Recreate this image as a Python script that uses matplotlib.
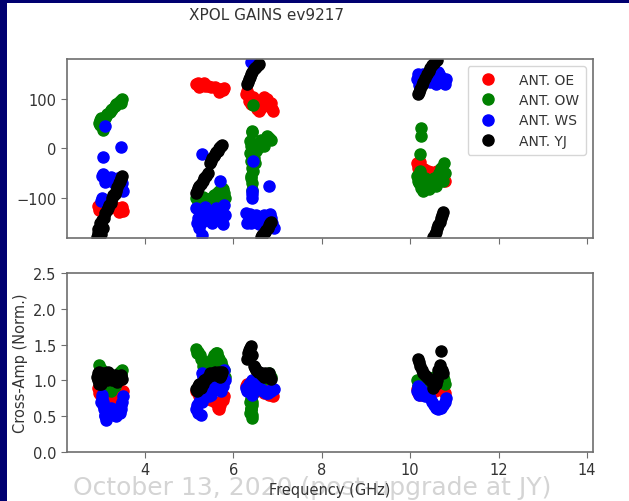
import matplotlib.pyplot as plt
from matplotlib.patches import Rectangle

# --- dane: częstotliwość (GHz), faza (deg), amplituda (norm.) ---
oe_freq = [2.93, 2.95, 2.97, 3.00, 3.01, 3.05, 3.10, 3.20, 3.30, 3.38, 3.40, 3.44, 3.47, 3.50,
           5.16, 5.20, 5.22, 5.25, 5.30, 5.33, 5.36, 5.42, 5.50, 5.58, 5.64, 5.68, 5.70, 5.76, 5.78,
           6.28, 6.31, 6.34, 6.36, 6.40, 6.42, 6.45, 6.47, 6.50, 6.53, 6.58, 6.62, 6.64, 6.68,
           6.70, 6.74, 6.76, 6.80, 6.84, 6.88, 6.90,
           10.16, 10.18, 10.20, 10.22, 10.25, 10.32, 10.40, 10.48, 10.56, 10.60, 10.64, 10.72,
           10.75, 10.78]
oe_phase = [-117, -125, -115, -112, -120, -125, -122, -120, -118, -120, -128, -124, -118, -127,
            131, 132, 125, 129, 128, 133, 127, 126, 125, 124, 120, 115, 121, 119, 123,
            110, 116, 96, 108, 90, 100, 105, 95, 85, 80, 76, 82, 98, 90,
            104, 95, 100, 85, 92, 79, 76,
            -30, -40, -36, -28, -40, -42, -45, -47, -50, -45, -52, -58,
            -55, -66]
oe_amp = [0.90, 0.82, 0.88, 0.78, 0.85, 0.80, 0.75, 0.70, 0.68, 0.65, 0.72, 0.75, 0.80, 0.85,
          0.85, 0.82, 0.78, 0.80, 0.85, 0.75, 0.80, 0.75, 0.72, 0.70, 0.62, 0.60, 0.65, 0.72, 0.78,
          0.92, 0.95, 0.90, 0.92, 0.88, 0.90, 0.95, 0.88, 0.85, 0.90, 0.92, 0.88, 0.85, 0.82,
          0.88, 0.85, 0.85, 0.80, 0.82, 0.80, 0.78,
          0.88, 0.82, 0.85, 0.80, 0.82, 0.85, 0.88, 0.82, 0.85, 0.88, 0.90, 0.95,
          0.85, 0.82]

ow_freq = [2.95, 2.97, 2.98, 3.00, 3.02, 3.05, 3.08, 3.11, 3.14, 3.20, 3.23, 3.26, 3.32, 3.35,
           3.38, 3.44, 3.46, 3.48,
           5.16, 5.18, 5.20, 5.24, 5.26, 5.30, 5.32, 5.36, 5.40, 5.44, 5.48, 5.52, 5.55, 5.60,
           5.62, 5.66, 5.68, 5.72, 5.74, 5.76, 5.78, 5.80,
           6.42, 6.41, 6.38, 6.40, 6.43, 6.38, 6.40, 6.42, 6.44, 6.39, 6.40, 6.41, 6.43, 6.46,
           6.48, 6.52, 6.55, 6.58, 6.62, 6.64, 6.68, 6.72, 6.76, 6.80, 6.86, 6.45,
           10.25, 10.25, 10.22, 10.16, 10.18, 10.20, 10.22, 10.24, 10.28, 10.30, 10.34, 10.38,
           10.42, 10.46, 10.50, 10.54, 10.58, 10.62, 10.66, 10.70, 10.74, 10.76, 10.78]
ow_phase = [52, 48, 57, 62, 55, 38, 62, 66, 70, 74, 77, 80, 86, 90,
            92, 97, 93, 100,
            -100, -95, -108, -112, -105, -98, -110, -108, -105, -112, -100, -108, -95, -100,
            -90, -105, -85, -95, -80, -82, -90, -100,
            35, 33, 15, 5, -5, -10, -25, -40, -45, -55, -60, -70, -84, -20,
            -30, -5, 0, 5, 18, 10, 5, 15, 25, 22, 18, 88,
            42, 25, -12, -55, -65, -70, -45, -80, -85, -75, -60, -70,
            -82, -65, -70, -60, -75, -55, -50, -40, -65, -30, -50]
ow_amp = [1.22, 1.10, 1.18, 1.05, 1.15, 1.10, 1.00, 0.92, 0.95, 0.90, 0.85, 0.90, 0.92, 0.98,
          1.00, 1.12, 1.08, 1.15,
          1.44, 1.38, 1.40, 1.35, 1.30, 1.25, 1.20, 1.10, 1.15, 1.20, 1.25, 1.30, 1.35, 1.38,
          1.38, 1.32, 1.30, 1.25, 1.20, 1.15, 1.15, 1.05,
          0.47, 0.52, 0.55, 0.60, 0.65, 0.70, 0.75, 0.80, 0.85, 0.58, 0.62, 0.70, 0.90, 0.95,
          0.88, 1.00, 0.95, 1.05, 1.00, 1.00, 1.02, 1.05, 1.08, 1.10, 1.05, 0.90,
          1.00, 0.95, 0.95, 1.00, 0.92, 0.90, 0.88, 0.85, 0.88, 0.90, 0.92, 0.95,
          0.98, 1.00, 1.02, 1.05, 1.00, 1.00, 1.05, 1.10, 1.05, 1.00, 0.95]

ws_freq = [3.02, 3.05, 3.06, 3.10, 3.12, 3.18, 3.22, 3.26, 3.30, 3.34, 3.38, 3.42, 3.46, 3.48,
           3.50, 3.00, 3.03, 3.09, 3.04, 3.45,
           5.16, 5.18, 5.20, 5.22, 5.24, 5.26, 5.30, 5.32, 5.36, 5.40, 5.44, 5.48, 5.52, 5.56,
           5.60, 5.64, 5.68, 5.72, 5.76, 5.80, 5.29, 5.29, 5.70, 5.78,
           6.28, 6.30, 6.34, 6.37, 6.40, 6.46, 6.50, 6.54, 6.58, 6.62, 6.66, 6.70, 6.74, 6.78,
           6.82, 6.86, 6.88, 6.91, 6.39, 6.42, 6.42, 6.42, 6.80, 6.44,
           10.16, 10.18, 10.20, 10.22, 10.26, 10.30, 10.34, 10.38, 10.42, 10.46, 10.50, 10.54,
           10.58, 10.62, 10.66, 10.70, 10.74, 10.78, 10.80]
ws_phase = [-56, -52, -58, -68, -62, -64, -58, -65, -70, -66, -60, -65, -78, -70,
            -86, -106, -100, 46, -18, 3,
            -120, -150, -140, -160, -128, -150, -140, -125, -118, -145, -138, -130, -150, -140,
            -120, -125, -135, -145, -152, -135, -174, -12, -66, -115,
            -130, -150, -145, -132, -150, -140, -135, -148, -152, -145, -140, -135, -145, -150,
            -132, -140, -150, -160, 174, -86, -92, -100, -76, -26,
            140, 150, 128, 145, 132, 150, 142, 140, 155, 135, 140, 148,
            130, 155, 150, 145, 140, 130, 140]
ws_amp = [0.75, 0.70, 0.60, 0.52, 0.45, 0.55, 0.62, 0.60, 0.52, 0.50, 0.58, 0.55, 0.65, 0.70,
          0.78, 0.70, 0.80, 0.50, 0.65, 0.60,
          0.60, 0.65, 0.55, 0.70, 0.80, 0.52, 0.95, 1.05, 0.90, 0.85, 0.78, 0.80, 0.85, 0.90,
          0.95, 0.95, 0.88, 0.85, 0.92, 1.00, 0.70, 1.10, 0.90, 1.15,
          0.90, 0.85, 0.95, 0.92, 0.85, 0.95, 0.90, 0.92, 0.88, 0.88, 0.85, 0.85, 0.82, 0.82,
          0.85, 0.85, 0.88, 0.88, 0.98, 1.00, 0.95, 0.80, 0.85, 0.90,
          0.85, 0.92, 0.80, 0.90, 0.85, 0.80, 0.78, 0.82, 0.80, 0.75, 0.70, 0.65,
          0.62, 0.60, 0.62, 0.62, 0.65, 0.70, 0.75]

yj_freq = [2.92, 2.93, 2.94, 2.95, 2.96, 2.97, 2.98, 2.99, 3.00, 3.02, 3.04, 3.07, 3.10, 3.13,
           3.16, 3.19, 3.22, 3.25, 3.28, 3.31, 3.34, 3.37, 3.40, 3.43, 3.46, 3.48,
           5.16, 5.18, 5.20, 5.23, 5.26, 5.30, 5.34, 5.38, 5.42, 5.46, 5.49, 5.52, 5.55, 5.58,
           5.61, 5.64, 5.67, 5.70, 5.72, 5.74,
           6.31, 6.33, 6.35, 6.37, 6.40, 6.43, 6.46, 6.49, 6.52, 6.55, 6.57, 6.62, 6.65, 6.68,
           6.71, 6.74, 6.77, 6.80, 6.83, 6.85,
           10.17, 10.20, 10.22, 10.26, 10.30, 10.34, 10.38, 10.42, 10.46, 10.50, 10.54, 10.60,
           10.52, 10.56, 10.58, 10.61, 10.64, 10.67, 10.70, 10.72, 10.74]
yj_phase = [-178, -162, -170, -175, -165, -150, -158, -172, -150, -145, -160, -140, -130, -125,
            -120, -115, -110, -100, -95, -92, -85, -78, -70, -65, -60, -55,
            -90, -85, -80, -76, -72, -66, -60, -55, -50, -30, -25, -20, -16, -12,
            -8, -5, 0, 3, 6, 8,
            130, 135, 140, 145, 150, 155, 160, 163, 165, 168, 170, -178, -175, -170,
            -168, -165, -160, -155, -150, -148,
            110, 115, 120, 128, 135, 142, 150, 156, 162, 168, 172, 178,
            -178, -172, -168, -160, -155, -148, -140, -134, -128]
yj_amp = [1.05, 1.00, 1.10, 0.95, 1.12, 1.08, 1.00, 1.05, 0.95, 1.00, 1.08, 1.10, 1.05, 1.00,
          1.12, 1.05, 1.08, 1.00, 1.02, 1.08, 1.05, 0.98, 1.00, 1.05, 1.08, 1.02,
          0.88, 0.85, 0.92, 0.95, 0.90, 0.95, 1.00, 1.02, 1.05, 1.10, 1.08, 1.08, 1.10, 1.12,
          1.08, 1.10, 1.12, 1.05, 1.08, 1.12,
          1.30, 1.38, 1.42, 1.45, 1.48, 1.35, 1.20, 1.18, 1.15, 1.12, 1.12, 1.10, 1.08, 1.05,
          1.10, 1.08, 1.05, 1.10, 1.05, 1.02,
          1.30, 1.25, 1.20, 1.15, 1.10, 1.08, 1.05, 1.02, 1.00, 0.98, 0.95, 1.05,
          0.90, 0.95, 0.95, 1.00, 1.15, 1.22, 1.41, 1.15, 1.10]

ANTENNAS = [
    ("ANT. OE", "red", oe_freq, oe_phase, oe_amp),
    ("ANT. OW", "green", ow_freq, ow_phase, ow_amp),
    ("ANT. WS", "blue", ws_freq, ws_phase, ws_amp),
    ("ANT. YJ", "black", yj_freq, yj_phase, yj_amp),
]

SPINE = "#6e6e6e"
TXT = "#333333"
NAVY = "#000070"

fig = plt.figure(figsize=(6.29, 5.02), dpi=100)

# ramka slajdu (granatowy pasek po lewej i u góry)
fig.patches.append(Rectangle((0, 0), 0.0105, 1, transform=fig.transFigure,
                             facecolor=NAVY, edgecolor="none"))
fig.patches.append(Rectangle((0, 0.993), 1, 0.007, transform=fig.transFigure,
                             facecolor=NAVY, edgecolor="none"))

ax1 = fig.add_axes([0.1065, 0.5239, 0.8363, 0.3566])
ax2 = fig.add_axes([0.1065, 0.0976, 0.8363, 0.3566])

for name, color, f, ph, amp in ANTENNAS:
    ax1.plot(f, ph, "o", color=color, markersize=8, label=name)
    ax2.plot(f, amp, "o", color=color, markersize=8)

for ax in (ax1, ax2):
    ax.set_xlim(2.23, 14.14)
    ax.set_xticks([4, 6, 8, 10, 12, 14])
    for s in ax.spines.values():
        s.set_color(SPINE)
        s.set_linewidth(1.2)
    ax.tick_params(colors=SPINE, labelcolor=TXT, labelsize=10.5, length=4)

ax1.set_ylim(-181, 181)
ax1.set_yticks([-100, 0, 100])
ax1.set_xticklabels([])

ax2.set_ylim(0, 2.5)
ax2.set_yticks([0.0, 0.5, 1.0, 1.5, 2.0, 2.5])
ax2.set_ylabel("Cross-Amp (Norm.)", color=TXT, fontsize=10.5, labelpad=4)
ax2.set_xlabel("Frequency (GHz)", color=TXT, fontsize=10.5, labelpad=3)

leg = ax1.legend(loc="upper right", fontsize=10, handletextpad=1.2,
                 borderpad=0.5, labelspacing=0.45)
for t in leg.get_texts():
    t.set_color(TXT)

fig.text(0.423, 0.97, "XPOL GAINS ev9217", ha="center", va="center",
         fontsize=11, color=TXT)

# stopka slajdu pod spodem osi
fig.text(0.497, 0.028, "October 13, 2020 (post-upgrade at JY)", ha="center",
         va="center", fontsize=18, color="#d4d4d4", zorder=-1)

fig.savefig("out.png", dpi=100)
